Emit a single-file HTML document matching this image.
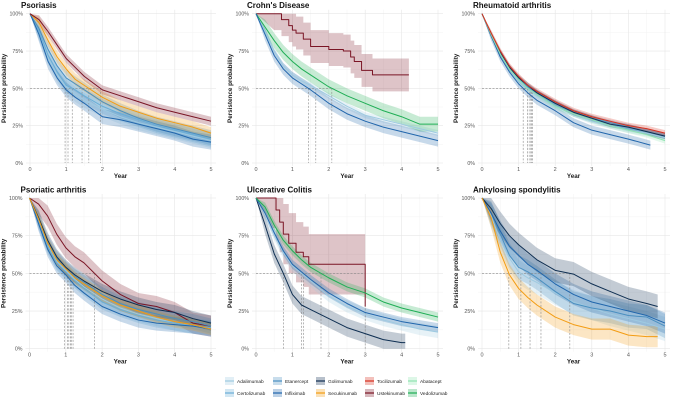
<!DOCTYPE html>
<html><head><meta charset="utf-8"><style>
html,body{margin:0;padding:0;background:#fff;}
svg{display:block;font-family:"Liberation Sans",sans-serif;}
</style></head><body>
<svg id="chart" width="676" height="400" viewBox="0 0 676 400"></svg>
<script>
// shared time grid (years)
const T = [0,0.25,0.5,0.75,1,1.25,1.5,2,2.5,3,3.5,4,4.5,5];
const yTicks = [0,0.25,0.5,0.75,1];
const yTickLabels = ["0%","25%","50%","75%","100%"];
const xTicks = [0,1,2,3,4,5];

const drugColors = {Adalimumab:"#9ecae1",Certolizumab:"#6aaed6",Etanercept:"#4a8fc0",Infliximab:"#2166ac",Golimumab:"#0f2f52",Secukinumab:"#f39c12",Tocilizumab:"#d7301f",Ustekinumab:"#7a1424",Abatacept:"#8fe3b0",Vedolizumab:"#1fae55"};

// Psoriasis
const psAda = [1,.87,.71,.59,.51,.46,.42,.36,.31,.27,.24,.21,.18,.15];
const psCert= [1,.88,.72,.61,.52,.49,.45,.38,.33,.29,.25,.22,.19,.16];
const psEta = [1,.90,.76,.65,.57,.53,.49,.41,.35,.30,.26,.23,.20,.17];
const psInf = [1,.86,.68,.57,.49,.44,.40,.31,.29,.26,.23,.20,.16,.14];
const psSec = [1,.94,.82,.71,.63,.56,.52,.44,.38,.34,.30,.27,.24,.20];
const psUst = [1,.96,.88,.79,.70,.64,.58,.49,.45,.41,.37,.34,.31,.28];
// Crohn's
const cdUstT = [0,0.5,0.7,0.9,1.0,1.1,1.3,1.5,2.0,2.4,2.6,2.7,2.9,3.2,4.2];
const cdUst  = [1,1,.96,.92,.89,.87,.83,.78,.76,.75,.71,.68,.62,.59,.59];
const cdVed = [1,.91,.82,.74,.68,.63,.59,.51,.45,.40,.35,.31,.26,.26];
const cdAda = [1,.88,.75,.65,.59,.55,.52,.45,.38,.32,.29,.26,.23,.20];
const cdInf = [1,.86,.72,.63,.57,.53,.49,.40,.33,.28,.24,.21,.18,.15];
// Rheumatoid arthritis
const raToc = [1,.87,.75,.65,.58,.52,.48,.41,.35,.31,.28,.25,.23,.20];
const raAba = [1,.86,.73,.63,.56,.50,.46,.38,.33,.29,.25,.22,.19,.15];
const raAda = [1,.86,.73,.63,.55,.50,.45,.38,.33,.28,.25,.22,.20,.17];
const raCert= [1,.86,.74,.64,.56,.51,.47,.39,.33,.29,.26,.23,.21,.18];
const raEta = [1,.86,.73,.64,.56,.51,.47,.40,.34,.30,.27,.24,.21,.18];
const raGol = [1,.86,.74,.64,.57,.52,.47,.40,.34,.30,.26,.24,.21,.18];
const raInfT= [0,0.25,0.5,0.75,1,1.25,1.5,2,2.5,3,3.5,4,4.6];
const raInf = [1,.85,.71,.61,.53,.47,.42,.35,.27,.22,.19,.16,.12];
// Psoriatic arthritis
const paUst = [1,.96,.88,.76,.67,.61,.57,.45,.36,.30,.28,.24,.17,.15];
const paSec = [1,.86,.70,.59,.53,.47,.43,.35,.29,.25,.21,.18,.16,.13];
const paAda = [1,.85,.69,.58,.52,.46,.41,.33,.27,.23,.20,.17,.15,.13];
const paCert= [1,.84,.68,.57,.51,.45,.40,.31,.26,.22,.19,.17,.15,.14];
const paEta = [1,.86,.70,.60,.53,.48,.44,.36,.30,.26,.23,.20,.18,.15];
const paInf = [1,.83,.66,.55,.49,.42,.37,.28,.23,.19,.17,.16,.15,.13];
const paGol = [1,.87,.72,.61,.54,.49,.45,.38,.33,.29,.26,.24,.20,.17];
// Ulcerative colitis
const ucUstT = [0,0.45,0.55,0.65,0.75,0.9,1.1,1.3,1.45,3.0,3.0];
const ucUst  = [1,1,.92,.84,.76,.70,.64,.61,.56,.56,.28];
const ucVed = [1,.94,.82,.72,.65,.59,.54,.47,.41,.37,.31,.27,.24,.21];
const ucAda = [1,.90,.76,.64,.55,.50,.45,.35,.28,.23,.19,.16,.13,.11];
const ucInf = [1,.90,.77,.65,.56,.51,.46,.37,.30,.24,.21,.18,.16,.14];
const ucGolT= [0,0.25,0.5,0.75,1,1.25,1.5,2,2.5,3,3.5,4,4.1];
const ucGol = [1,.82,.63,.50,.36,.29,.26,.20,.14,.10,.06,.04,.04];
// Ankylosing spondylitis
const asSecT= [0,0.25,0.5,0.75,1,1.25,1.5,2,2.5,3,3.5,4,4.5,4.8];
const asSec = [1,.87,.64,.49,.40,.34,.29,.21,.16,.13,.13,.09,.08,.08];
const asGolT= [0,0.25,0.5,0.75,1,1.25,1.5,2,2.5,3,3.5,4,4.5,4.8];
const asGol = [1,.93,.83,.75,.69,.64,.59,.52,.495,.43,.38,.33,.30,.28];
const asInf = [1,.90,.78,.68,.62,.56,.52,.43,.36,.31,.28,.25,.22,.17];
const asEta = [1,.90,.76,.62,.54,.51,.47,.38,.30,.27,.25,.22,.21,.15];
const asAda = [1,.88,.72,.60,.51,.47,.44,.37,.31,.27,.23,.20,.17,.13];

const panels = [
 {title:"Psoriasis", x0:30,x1:211,y0:163,y1:13.7, series:[
  {d:"Adalimumab",t:T,v:psAda,ci:.05},{d:"Certolizumab",t:T,v:psCert,ci:.05},{d:"Etanercept",t:T,v:psEta,ci:.05},
  {d:"Infliximab",t:T,v:psInf,ci:.05},{d:"Secukinumab",t:T,v:psSec,ci:.04},{d:"Ustekinumab",t:T,v:psUst,ci:.03}]},
 {title:"Crohn's Disease", x0:256,x1:438,y0:163,y1:13.7, series:[
  {d:"Ustekinumab",t:cdUstT,v:cdUst,ci:.11,step:true},{d:"Adalimumab",t:T,v:cdAda,ci:.02},
  {d:"Vedolizumab",t:T,v:cdVed,ci:.05},{d:"Infliximab",t:T,v:cdInf,ci:.04}]},
 {title:"Rheumatoid arthritis", x0:482,x1:665,y0:163,y1:13.7, series:[
  {d:"Infliximab",t:raInfT,v:raInf,ci:.03},{d:"Adalimumab",t:T,v:raAda,ci:.02},{d:"Certolizumab",t:T,v:raCert,ci:.02},
  {d:"Etanercept",t:T,v:raEta,ci:.02},{d:"Golimumab",t:T,v:raGol,ci:.02},{d:"Abatacept",t:T,v:raAba,ci:.02},{d:"Tocilizumab",t:T,v:raToc,ci:.02}]},
 {title:"Psoriatic arthritis", x0:29.5,x1:211,y0:348.7,y1:198, series:[
  {d:"Ustekinumab",t:T,v:paUst,ci:.07},{d:"Adalimumab",t:T,v:paAda,ci:.05},{d:"Certolizumab",t:T,v:paCert,ci:.05},
  {d:"Infliximab",t:T,v:paInf,ci:.05},{d:"Etanercept",t:T,v:paEta,ci:.05},{d:"Golimumab",t:T,v:paGol,ci:.05},{d:"Secukinumab",t:T,v:paSec,ci:.04}]},
 {title:"Ulcerative Colitis", x0:256,x1:438,y0:348.7,y1:198, series:[
  {d:"Ustekinumab",t:ucUstT,v:ucUst,ci:.2,step:true},{d:"Golimumab",t:ucGolT,v:ucGol,ci:.06},{d:"Adalimumab",t:T,v:ucAda,ci:.04},
  {d:"Infliximab",t:T,v:ucInf,ci:.03},{d:"Vedolizumab",t:T,v:ucVed,ci:.03}]},
 {title:"Ankylosing spondylitis", x0:482,x1:665,y0:348.7,y1:198, series:[
  {d:"Adalimumab",t:T,v:asAda,ci:.08},{d:"Etanercept",t:T,v:asEta,ci:.08},{d:"Infliximab",t:T,v:asInf,ci:.07},
  {d:"Golimumab",t:asGolT,v:asGol,ci:.08},{d:"Secukinumab",t:asSecT,v:asSec,ci:.07}]}
];

const NS="http://www.w3.org/2000/svg";
const svg=document.getElementById('chart');
function mk(tag,attrs,parent){const e=document.createElementNS(NS,tag);for(const k in attrs)e.setAttribute(k,attrs[k]);(parent||svg).appendChild(e);return e;}

function stepPts(s){
  const pts=[];
  for(let i=0;i<s.t.length;i++){
    if(s.step && i>0) pts.push([s.t[i],s.v[i-1]]);
    pts.push([s.t[i],s.v[i]]);
  }
  return pts;
}
function median(s){
  for(let i=1;i<s.t.length;i++){
    if(s.v[i]<=0.5){
      if(s.step) return s.t[i];
      const a=s.v[i-1],b=s.v[i];
      return s.t[i-1]+(s.t[i]-s.t[i-1])*(a-0.5)/(a-b);
    }
  }
  return null;
}

panels.forEach((p,pi)=>{
  const g=mk('g',{});
  
  
  const sx=t=>p.x0+(p.x1-p.x0)*t/5;
  const sy=v=>p.y0+(p.y1-p.y0)*v;
  const xl=p.x0-4, xr=p.x1+5, yt=p.y1-4, yb=p.y0+3;
  for(let t=0.5;t<5;t+=1){mk('line',{x1:sx(t),x2:sx(t),y1:yt,y2:yb,stroke:'#f3f3f3','stroke-width':0.5},g);}
  for(let v=0.125;v<1;v+=0.25){mk('line',{x1:xl,x2:xr,y1:sy(v),y2:sy(v),stroke:'#f3f3f3','stroke-width':0.5},g);}
  xTicks.forEach(t=>{mk('line',{x1:sx(t),x2:sx(t),y1:yt,y2:yb,stroke:'#e6e6e6','stroke-width':0.6},g);
    const tx=mk('text',{x:sx(t),y:p.y0+8,'font-size':5.5,fill:'#555','text-anchor':'middle'},g);tx.textContent=t;
    
    });
  yTicks.forEach((v,i)=>{mk('line',{x1:xl,x2:xr,y1:sy(v),y2:sy(v),stroke:'#e6e6e6','stroke-width':0.6},g);
    const tx=mk('text',{x:p.x0-7,y:sy(v)+2,'font-size':5.3,fill:'#555','text-anchor':'end'},g);tx.textContent=yTickLabels[i];
    
    });
  const ti=mk('text',{x:p.x0-9,y:p.y1-5.5,'font-size':8,fill:'#111','font-weight':'bold'},g);ti.textContent=p.title;
  
  
  const xa=mk('text',{x:(p.x0+p.x1)/2,y:p.y0+15,'font-size':6.3,fill:'#222','font-weight':'bold','text-anchor':'middle'},g);xa.textContent='Year';
  
  
  const ya=mk('text',{x:0,y:0,'font-size':6.3,fill:'#222','font-weight':'bold','text-anchor':'middle',transform:`translate(${p.x0-24},${(p.y0+p.y1)/2}) rotate(-90)`},g);ya.textContent='Persistence probability';
  
  
  p.series.forEach(s=>{
    const pts=stepPts(s);
    const up=pts.map(q=>[sx(q[0]),sy(Math.min(1,q[1]+s.ci*(q[0]>0?1:0)))]);
    const lo=pts.map(q=>[sx(q[0]),sy(Math.max(0,q[1]-s.ci*(q[0]>0?1:0)))]).reverse();
    const b=mk('polygon',{points:up.concat(lo).map(q=>q.join(',')).join(' '),fill:drugColors[s.d],'fill-opacity':0.25,stroke:'none'},g);
    
    
  });
  const meds=p.series.map(median).filter(m=>m!==null);
  const mx=Math.max(...meds);
  const hl=mk('line',{x1:sx(0),x2:sx(mx),y1:sy(0.5),y2:sy(0.5),stroke:'#888','stroke-width':0.6,'stroke-dasharray':'2,1.5'},g);
  
  
  meds.forEach(m=>{const l=mk('line',{x1:sx(m),x2:sx(m),y1:sy(0.5),y2:sy(0),stroke:'#888','stroke-width':0.6,'stroke-dasharray':'2,1.5'},g);
    
    });
  p.series.forEach(s=>{
    const pts=stepPts(s);
    const l=mk('polyline',{points:pts.map(q=>sx(q[0])+','+sy(q[1])).join(' '),fill:'none',stroke:drugColors[s.d],'stroke-width':1.0,'stroke-linejoin':'round'},g);
    
    
  });
});

const legRows=[["Adalimumab","Etanercept","Golimumab","Tocilizumab","Abatacept"],["Certolizumab","Infliximab","Secukinumab","Ustekinumab","Vedolizumab"]];
const legX=[225,273,316,365,408];
const legY=[381,393];
const lg=mk('g',{});


legRows.forEach((row,ri)=>row.forEach((d,ci)=>{
  const e=mk('g',{},lg);
  
  
  mk('rect',{x:legX[ci],y:legY[ri]-4,width:9,height:8,fill:drugColors[d],'fill-opacity':0.3},e);
  mk('line',{x1:legX[ci],x2:legX[ci]+9,y1:legY[ri],y2:legY[ri],stroke:drugColors[d],'stroke-width':1.2},e);
  const t=mk('text',{x:legX[ci]+12,y:legY[ri]+2,'font-size':4.8,fill:'#222'},e);t.textContent=d;
}));
</script>
</body></html>
